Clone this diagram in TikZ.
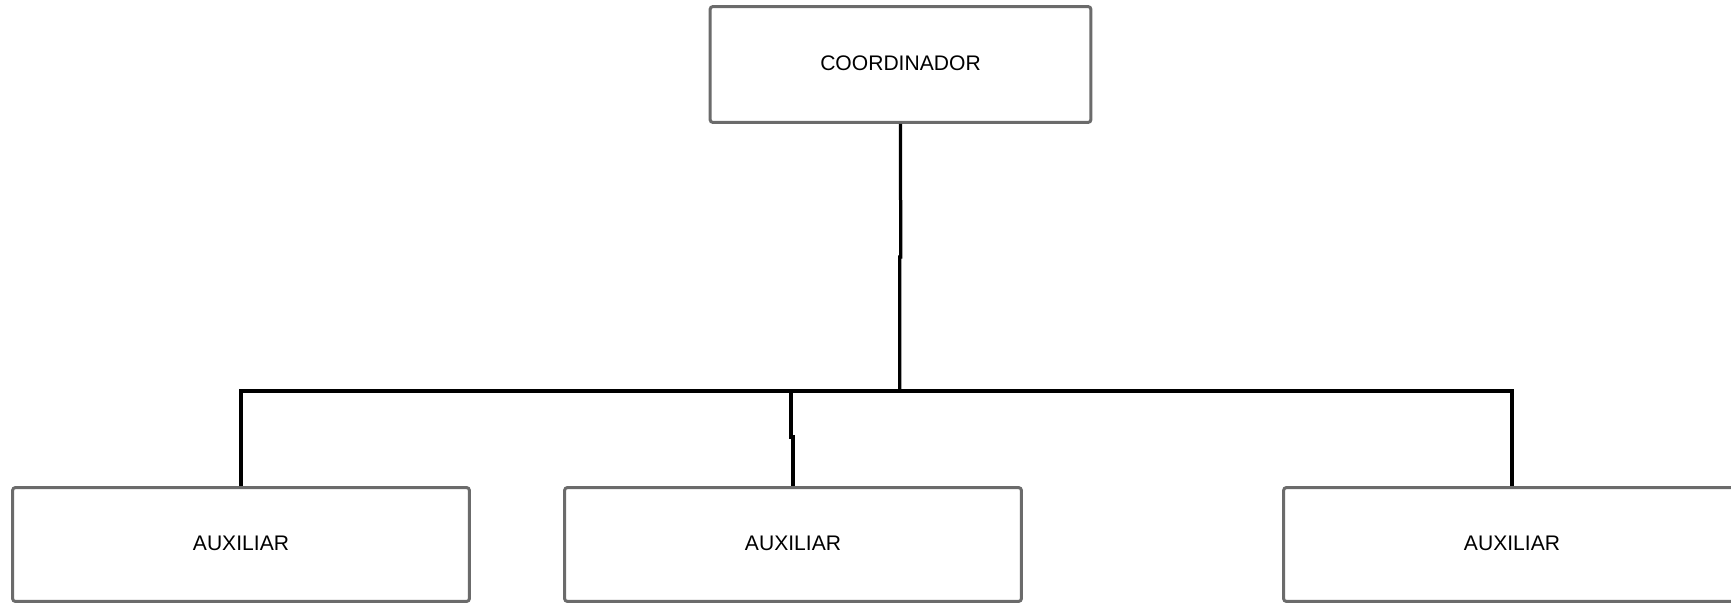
\documentclass[tikz,border=0pt]{standalone}
\usepackage{fontspec}
\setmainfont{Liberation Sans}
\definecolor{boxgray}{HTML}{6B6B6B}
\begin{document}
\begin{tikzpicture}[x=0.02cm,y=-0.02cm,
  cargo/.style={draw=boxgray,line width=0.06cm,rounded corners=0.06cm,fill=white,
    minimum width=9.14cm,minimum height=2.28cm,inner sep=0pt,
    font=\fontsize{12}{14}\selectfont},
  link/.style={line width=0.065cm,black}]
\useasboundingbox (0,0) rectangle (1731,605);
\node[cargo,minimum width=7.62cm,minimum height=2.32cm] (coord) at (900.5,64.5) {\raisebox{1.5pt}{COORDINADOR}};
\node[cargo] (aux1) at (241,544.5) {\raisebox{1.5pt}{AUXILIAR}};
\node[cargo] (aux2) at (793,544.5) {\raisebox{1.5pt}{AUXILIAR}};
\node[cargo] (aux3) at (1512,544.5) {\raisebox{1.5pt}{AUXILIAR}};
\coordinate (hub) at (899.7,391);
\draw[link](coord.south)--(900.7,257)-|(hub);
\draw[link](aux1.north)|-(aux3.north |- hub)--(aux3.north);
\draw[link](aux2.north)--(793,437)-|(791,391);
\end{tikzpicture}
\end{document}
